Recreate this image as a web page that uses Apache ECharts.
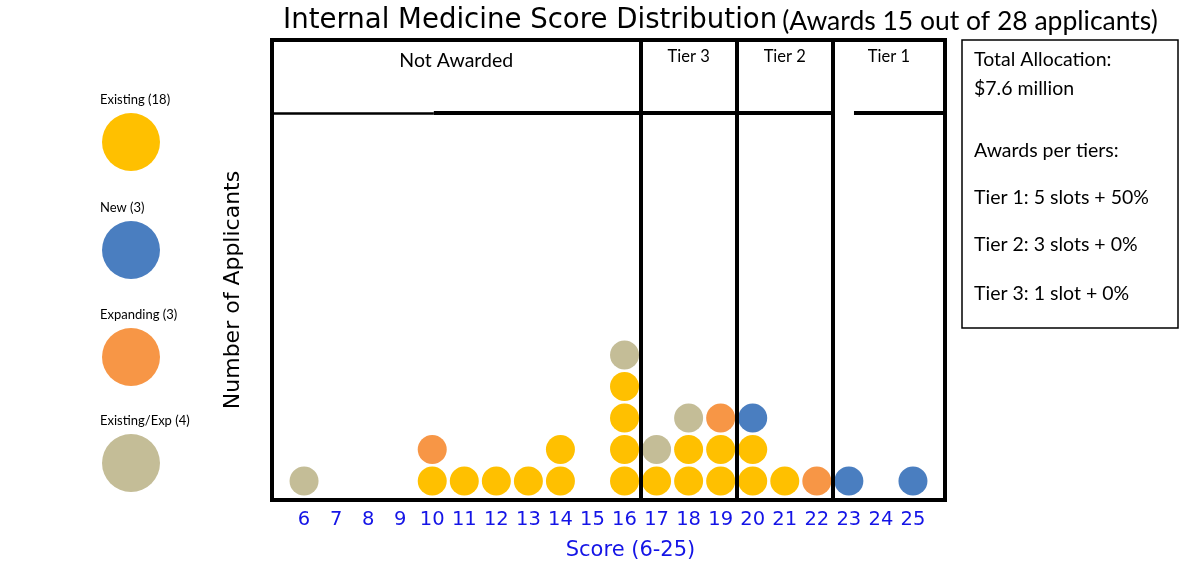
<!DOCTYPE html>
<html>
<head>
<meta charset="utf-8">
<script src="https://cdn.jsdelivr.net/npm/echarts@6/dist/echarts.min.js"></script>
<style>html,body{margin:0;padding:0;background:#fff;}#c{width:1200px;height:581px;}</style>
</head>
<body>
<div id="c"></div>
<script>
// ---- data ----
const categories = ['Existing', 'New', 'Expanding', 'Existing/Exp'];
const colors = ['#FFC000', '#4A7EC0', '#F79646', '#C4BD97'];
const scores = [6, 10, 11, 12, 13, 14, 16, 17, 18, 19, 20, 21, 22, 23, 25];
// applicants at each score, stacked bottom to top
const stacks = [
  ['Existing/Exp'],
  ['Existing', 'Expanding'],
  ['Existing'],
  ['Existing'],
  ['Existing'],
  ['Existing', 'Existing'],
  ['Existing', 'Existing', 'Existing', 'Existing', 'Existing/Exp'],
  ['Existing', 'Existing/Exp'],
  ['Existing', 'Existing', 'Existing/Exp'],
  ['Existing', 'Existing', 'Expanding'],
  ['Existing', 'Existing', 'New'],
  ['Existing'],
  ['Expanding'],
  ['New'],
  ['New']
];
const xTicks = [6, 7, 8, 9, 10, 11, 12, 13, 14, 15, 16, 17, 18, 19, 20, 21, 22, 23, 24, 25];
const tierBounds = [16.5, 19.5, 22.5];
const tierNames = ['Not Awarded', 'Tier 3', 'Tier 2', 'Tier 1'];
const infoLines = ['Total Allocation:', '$7.6 million', 'Awards per tiers:', 'Tier 1: 5 slots + 50%', 'Tier 2: 3 slots + 0%', 'Tier 3: 1 slot + 0%'];
const infoTops = [50, 79, 141, 188, 235, 284];

// ---- build ----
const FONT = 'Lato';
const SANS = 'DejaVu Sans';
const xMin = 5, xMax = 26, yMin = 0.4, yMax = 15, headerY = 12.68;
const seriesData = categories.map(() => []);
stacks.forEach((col, i) => {
  col.forEach((cat, j) => {
    seriesData[categories.indexOf(cat)].push([scores[i], j + 1]);
  });
});
const names = categories.map((c, i) => c + ' (' + seriesData[i].length + ')');

const bounds = [xMin].concat(tierBounds, [xMax]);
const markAreaData = tierNames.map((n, i) => [
  { name: n, xAxis: bounds[i], yAxis: headerY,
    label: { fontSize: i === 0 ? 19.5 : 16.5, distance: i === 0 ? 11 : 8 } },
  { xAxis: bounds[i + 1], yAxis: yMax }
]);

// header divider segments (as in the original drawing)
const headerSegs = [[xMin, 10.05, 2.5], [10.05, 22.5, 4], [23.16, xMax, 4]];

const series = categories.map((c, i) => ({
  name: names[i],
  type: 'scatter',
  data: seriesData[i],
  symbolSize: 29,
  itemStyle: { color: colors[i], opacity: 1 },
  z: 3
}));
series[0].markLine = {
  silent: true, symbol: 'none', animation: false,
  lineStyle: { color: '#000', width: 4, type: 'solid' },
  label: { show: false },
  data: tierBounds.map(b => ({ xAxis: b })).concat(
    headerSegs.map(s => [
      { coord: [s[0], headerY], lineStyle: { width: s[2], color: '#000', type: 'solid' } },
      { coord: [s[1], headerY] }
    ]))
};
series[0].markArea = {
  silent: true, animation: false,
  itemStyle: { color: 'rgba(0,0,0,0)' },
  label: { position: 'insideTop', color: '#000', fontFamily: FONT },
  data: markAreaData
};

const legendTops = [113, 221, 328, 434];
const legends = names.map((n, i) => ({
  data: [n], left: 102, top: legendTops[i], orient: 'vertical',
  icon: 'circle', itemWidth: 58, itemHeight: 58, padding: 0, itemGap: 0,
  formatter: () => '', selectedMode: false
}));

const graphic = [];
names.forEach((n, i) => {
  graphic.push({ type: 'text', left: 100, top: legendTops[i] - 20,
    style: { text: n, fontSize: 13, fontFamily: FONT, fill: '#000' } });
});
graphic.push({ type: 'rect', shape: { x: 962, y: 40, width: 216, height: 288 },
  style: { fill: '#fff', stroke: '#000', lineWidth: 1.5 } });
infoLines.forEach((t, i) => {
  graphic.push({ type: 'text', left: 974, top: infoTops[i],
    style: { text: t, fontSize: 19.5, fontFamily: FONT, fill: '#000' } });
});

const chart = echarts.init(document.getElementById('c'));
chart.setOption({
  animation: false,
  backgroundColor: '#fff',
  title: {
    left: 278, top: 2,
    text: '{a|Internal Medicine Score Distribution} {b|(Awards 15 out of 28 applicants)}',
    textStyle: {
      rich: {
        a: { fontSize: 27.6, fontFamily: SANS, fontWeight: 'normal', color: '#000' },
        b: { fontSize: 26.5, fontFamily: FONT, fontWeight: 'normal', color: '#000' }
      }
    }
  },
  legend: legends,
  grid: { left: 272, top: 40, width: 673, height: 460, show: true, borderColor: '#000', borderWidth: 4, backgroundColor: 'transparent' },
  xAxis: {
    type: 'value', min: xMin, max: xMax, interval: 1,
    axisLine: { show: false }, axisTick: { show: false }, splitLine: { show: false },
    axisLabel: {
      margin: 10, fontSize: 19.5, fontFamily: SANS, color: '#1414E6',
      showMinLabel: false, showMaxLabel: false,
      formatter: v => (xTicks.indexOf(v) >= 0 ? String(v) : '')
    },
    name: 'Score (6-25)', nameLocation: 'middle', nameGap: 40,
    nameTextStyle: { fontSize: 21, fontFamily: SANS, color: '#1414E6', padding: [0, 0, 0, 44] }
  },
  yAxis: {
    type: 'value', min: yMin, max: yMax,
    axisLine: { show: false }, axisTick: { show: false }, splitLine: { show: false },
    axisLabel: { show: false },
    name: 'Number of Applicants', nameLocation: 'middle', nameGap: 28, nameRotate: 90,
    nameTextStyle: { fontSize: 22, fontFamily: SANS, color: '#000', padding: [0, 40, 0, 0] }
  },
  graphic: graphic,
  series: series
});
</script>
</body>
</html>
